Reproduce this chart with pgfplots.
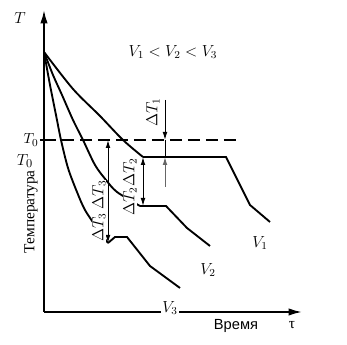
\documentclass[border=0pt]{standalone}
\usepackage{pgfplots}
\pgfplotsset{compat=1.18}
\usepackage{fontspec}
\setmainfont{Liberation Serif}
\newfontfamily\sansru{Liberation Sans}
\usetikzlibrary{arrows.meta}
\begin{document}
\begin{tikzpicture}[font=\fontsize{11.5}{13}\selectfont]
\begin{axis}[
  scale only axis, width=193.5pt, height=226.5pt,
  xmin=0, xmax=258, ymin=0, ymax=302,
  axis x line*=bottom, axis y line*=left,
  axis line style={line width=1.3pt, -{Latex[length=10pt,width=5.5pt]}},
  xtick=\empty, ytick={172}, yticklabels={$T_0$},
  tick align=outside, major tick length=3pt, tick style={line width=1pt, black},
  yticklabel style={inner sep=1pt, font=\fontsize{11}{12}\selectfont},
  clip=false,
]
\path (axis cs:-44,-33) rectangle (axis cs:303,312);
% dashed T0 line
\addplot[line width=1.1pt, dash pattern=on 9pt off 4.5pt] coordinates {(0,172)(193,172)};
% V1
\addplot[line width=1.4pt, smooth, tension=0.5] coordinates {(0,260)(29,223)(56,196)(79,172)(99,155)};
\addplot[line width=1.4pt, sharp plot] coordinates {(99,155)(182,155)(206,107)(226,90)};
% V2
\addplot[line width=1.4pt, smooth, tension=0.5] coordinates {(0,260)(9,237)(18,217)(29,192)(39,172)(51,147)(62,132)(73,120)(96,106)};
\addplot[line width=1.4pt, sharp plot] coordinates {(96,106)(122,106)(143,84)(166,66)};
% V3
\addplot[line width=1.4pt, smooth, tension=0.5] coordinates {(0,260)(6,227)(12,197)(17,172)(24,144)(33,120)(41,102)(53,84)(64,69)};
\addplot[line width=1.4pt, sharp plot] coordinates {(64,69)(71,75)(83,75)(106,46)(136,24)};
% arrows
\draw[line width=0.7pt, {Latex[length=6pt,width=3.5pt]}-{Latex[length=6pt,width=3.5pt]}] (axis cs:64,172) -- (axis cs:64,69);
\draw[line width=0.7pt, {Latex[length=6pt,width=3.5pt]}-{Latex[length=6pt,width=3.5pt]}] (axis cs:99,155) -- (axis cs:99,106);
\draw[line width=0.7pt, -{Latex[length=6pt,width=3.5pt]}] (axis cs:121,212) -- (axis cs:121,172);
\draw[line width=0.7pt] (axis cs:121,172) -- (axis cs:121,155);
\draw[line width=0.7pt, black!60, -{Latex[length=6pt,width=3.5pt]}] (axis cs:121,125) -- (axis cs:121,155);
% labels
\node[rotate=90, fill=white, inner sep=0.5pt] at (axis cs:55,101) {$\Delta T_3\ \Delta T_3$};
\node[rotate=90, fill=white, inner sep=0.5pt] at (axis cs:86,125) {$\Delta T_2\Delta T_2$};
\node[rotate=90] at (axis cs:109,200) {$\Delta T_1$};
\node at (axis cs:216,69) {$V_1$};
\node at (axis cs:164,42) {$V_2$};
\node[fill=white, inner sep=1pt] at (axis cs:126,4) {$V_3$};
\node at (axis cs:129,260) {$V_1<V_2<V_3$};
\node[font=\fontsize{13}{14}\selectfont] at (axis cs:-24,294) {$T$};
\node[font=\fontsize{12.5}{14}\selectfont] at (axis cs:-19,151) {$T_0$};
\node[rotate=90, anchor=west, font=\fontsize{11.5}{12}\selectfont] at (axis cs:-13,54) {Температура};
\node[font=\sansru\fontsize{11}{12}\selectfont] at (axis cs:192,-14) {Время};
\node at (axis cs:248,-13) {τ};
\end{axis}
\end{tikzpicture}
\end{document}
